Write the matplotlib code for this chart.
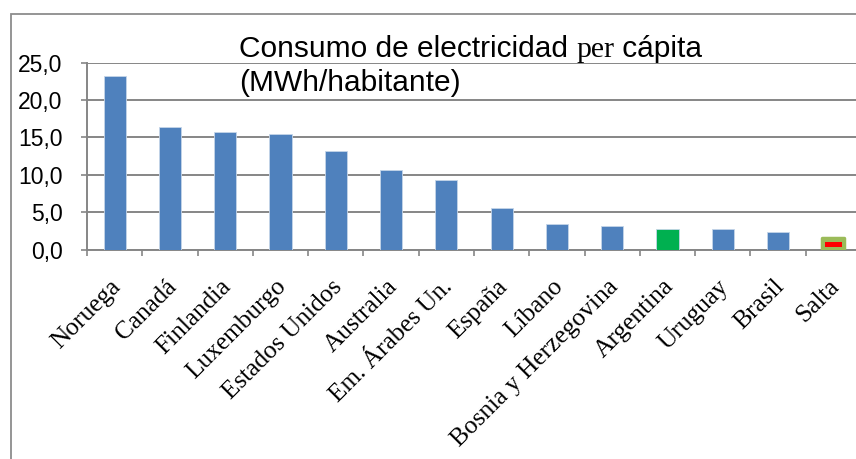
import matplotlib
matplotlib.use("Agg")
import matplotlib.pyplot as plt
import matplotlib.transforms as mtransforms
from matplotlib.patches import Rectangle

paises = ["Noruega", "Canadá", "Finlandia", "Luxemburgo", "Estados Unidos",
          "Australia", "Em. Árabes Un.", "España", "Líbano",
          "Bosnia y Herzegovina", "Argentina", "Uruguay", "Brasil", "Salta"]
consumo = [23.2, 16.4, 15.7, 15.5, 13.2, 10.6, 9.3, 5.5, 3.4, 3.1, 2.8, 2.7, 2.3, 1.5]
colores = ["#4F81BD"] * 10 + ["#00B050"] + ["#4F81BD"] * 2 + ["#9BBB59"]
# marca roja sobre la barra de Salta (desde, hasta)
salta_marca = [0.4, 0.95]
y_ticks = [0, 5, 10, 15, 20, 25]
y_labels = ["0,0", "5,0", "10,0", "15,0", "20,0", "25,0"]

W, H = 856, 459
fig = plt.figure(figsize=(W / 100, H / 100), dpi=100)
fig.patch.set_facecolor("white")

# borde del area del grafico
fig.patches.append(Rectangle((10.5 / W, -0.1), 1.2, (H - 13.5) / H + 0.1,
                             transform=fig.transFigure, fill=False,
                             edgecolor="#8c8c8c", linewidth=1.3))

ax = fig.add_axes([87 / W, (H - 249.5) / H, 774 / W, 186.7 / H])
x = list(range(len(paises)))
ax.bar(x, consumo, width=0.4, color=colores, edgecolor="#c5d5e8", linewidth=0.6, zorder=3)
# Salta resaltada
ax.bar(x[-1], consumo[-1], width=0.4, color="#9BBB59", edgecolor="#9BBB59",
       linewidth=2.5, joinstyle="round", zorder=4)
ax.bar(x[-1], salta_marca[1] - salta_marca[0], bottom=salta_marca[0], width=0.31,
       color="#FF0000", zorder=5)

ax.set_xlim(-0.5, len(paises) - 0.5)
ax.set_ylim(0, 25)
ax.set_yticks(y_ticks)
ax.set_yticklabels(y_labels, fontfamily="Liberation Sans", fontsize=16.5)
ax.yaxis.grid(True, color="#868686", linewidth=1.4, zorder=0)
ax.set_axisbelow(True)
for s in ["top", "right"]:
    ax.spines[s].set_visible(False)
for s in ["left", "bottom"]:
    ax.spines[s].set_color("#868686")
    ax.spines[s].set_linewidth(1.4)
    ax.spines[s].set_zorder(2)
ax.tick_params(axis="y", length=4.5, width=1.2, color="#868686", pad=13)
ax.set_xticks([i - 0.5 for i in range(len(paises))])
ax.set_xticklabels([])
ax.tick_params(axis="x", length=4.5, width=1.2, color="#868686", direction="out")

# etiquetas rotadas
off = mtransforms.ScaledTranslation(-5 / 100, -26 / 100, fig.dpi_scale_trans)
for i, p in enumerate(paises):
    ax.text(i, 0, p, transform=ax.transData + off, rotation=45, rotation_mode="anchor",
            ha="right", va="top", fontfamily="Liberation Serif", fontsize=18.3)

# titulo con "per" en serif
tsize = 21.5
t1 = fig.text(239 / W, (H - 57) / H, "Consumo de electricidad ", fontfamily="Liberation Sans",
              fontsize=tsize, va="baseline", ha="left")
fig.canvas.draw()
r = fig.canvas.get_renderer()
x1 = t1.get_window_extent(r).x1
t2 = fig.text(x1 / W, (H - 57) / H, "per", fontfamily="Liberation Serif",
              fontsize=tsize, va="baseline", ha="left")
x2 = t2.get_window_extent(r).x1
fig.text(x2 / W, (H - 57) / H, " cápita", fontfamily="Liberation Sans",
         fontsize=tsize, va="baseline", ha="left")
fig.text(239 / W, (H - 91) / H, "(MWh/habitante)", fontfamily="Liberation Sans",
         fontsize=tsize, va="baseline", ha="left")

fig.savefig("out.png", dpi=100)
